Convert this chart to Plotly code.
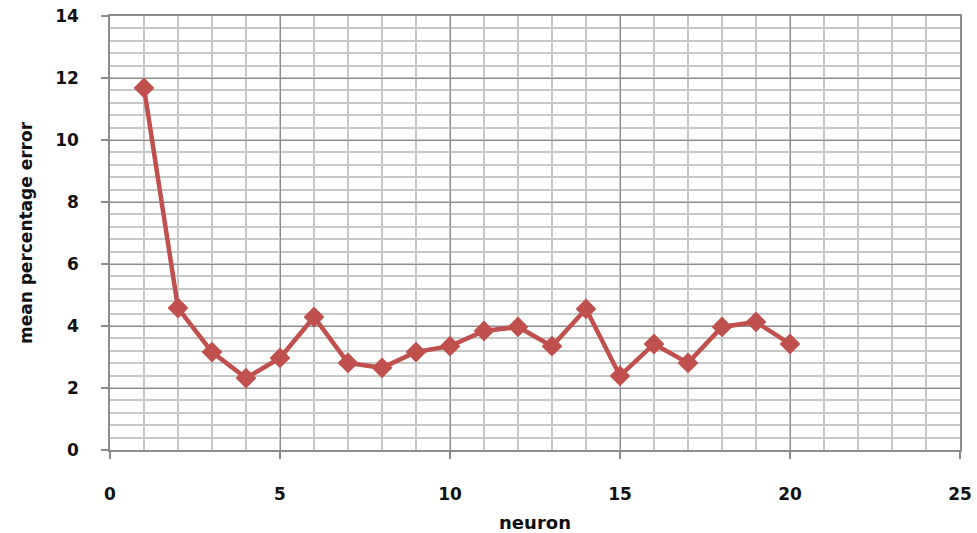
import plotly.graph_objects as go

# Mean percentage error per number of hidden neurons
neurons = list(range(1, 21))
mean_pct_error = [11.68, 4.58, 3.16, 2.32, 2.97, 4.29, 2.81, 2.65, 3.16, 3.35,
                  3.84, 3.97, 3.35, 4.55, 2.39, 3.42, 2.81, 3.97, 4.13, 3.42]

x_ticks = [0, 5, 10, 15, 20, 25]
y_ticks = [0, 2, 4, 6, 8, 10, 12, 14]

FONT = "DejaVu Sans"
RED = "#C0504D"

fig = go.Figure()
fig.add_trace(go.Scatter(
    x=neurons, y=mean_pct_error, mode="lines+markers",
    line=dict(color=RED, width=4.5),
    marker=dict(symbol="diamond", size=16, color=RED),
    showlegend=False, cliponaxis=False,
))

axis_common = dict(
    showline=True, linecolor="#8c8c8c", linewidth=1.5, mirror=True,
    gridcolor="#8c8c8c", gridwidth=1, zeroline=False, automargin=False,
    ticks="outside", ticklen=7, tickcolor="#8c8c8c", tickwidth=1.5,
    tickfont=dict(family=FONT, size=17, color="#111111", weight="bold"),
)

fig.update_xaxes(
    range=[0, 25], tickvals=x_ticks, ticktext=[str(v) for v in x_ticks],
    ticklabelstandoff=21,
    minor=dict(dtick=1, tick0=0, showgrid=True, gridcolor="#c8c8c8", gridwidth=1.5, ticks=""),
    title=dict(text="neuron", font=dict(family=FONT, size=18, color="#111111", weight="bold"),
               standoff=14),
    **axis_common,
)
fig.update_yaxes(
    range=[0, 14], tickvals=y_ticks, ticktext=[str(v) for v in y_ticks],
    ticklabelstandoff=19,
    minor=dict(dtick=0.4, tick0=0, showgrid=True, gridcolor="#c8c8c8", gridwidth=1.5, ticks=""),
    title=dict(text="mean percentage error", font=dict(family=FONT, size=17, color="#111111", weight="bold"),
               standoff=18),
    **axis_common,
)

fig.update_layout(
    width=977, height=533,
    margin=dict(l=110, r=17, t=16, b=83),
    paper_bgcolor="white", plot_bgcolor="white",
)

fig.write_html("out.html")
